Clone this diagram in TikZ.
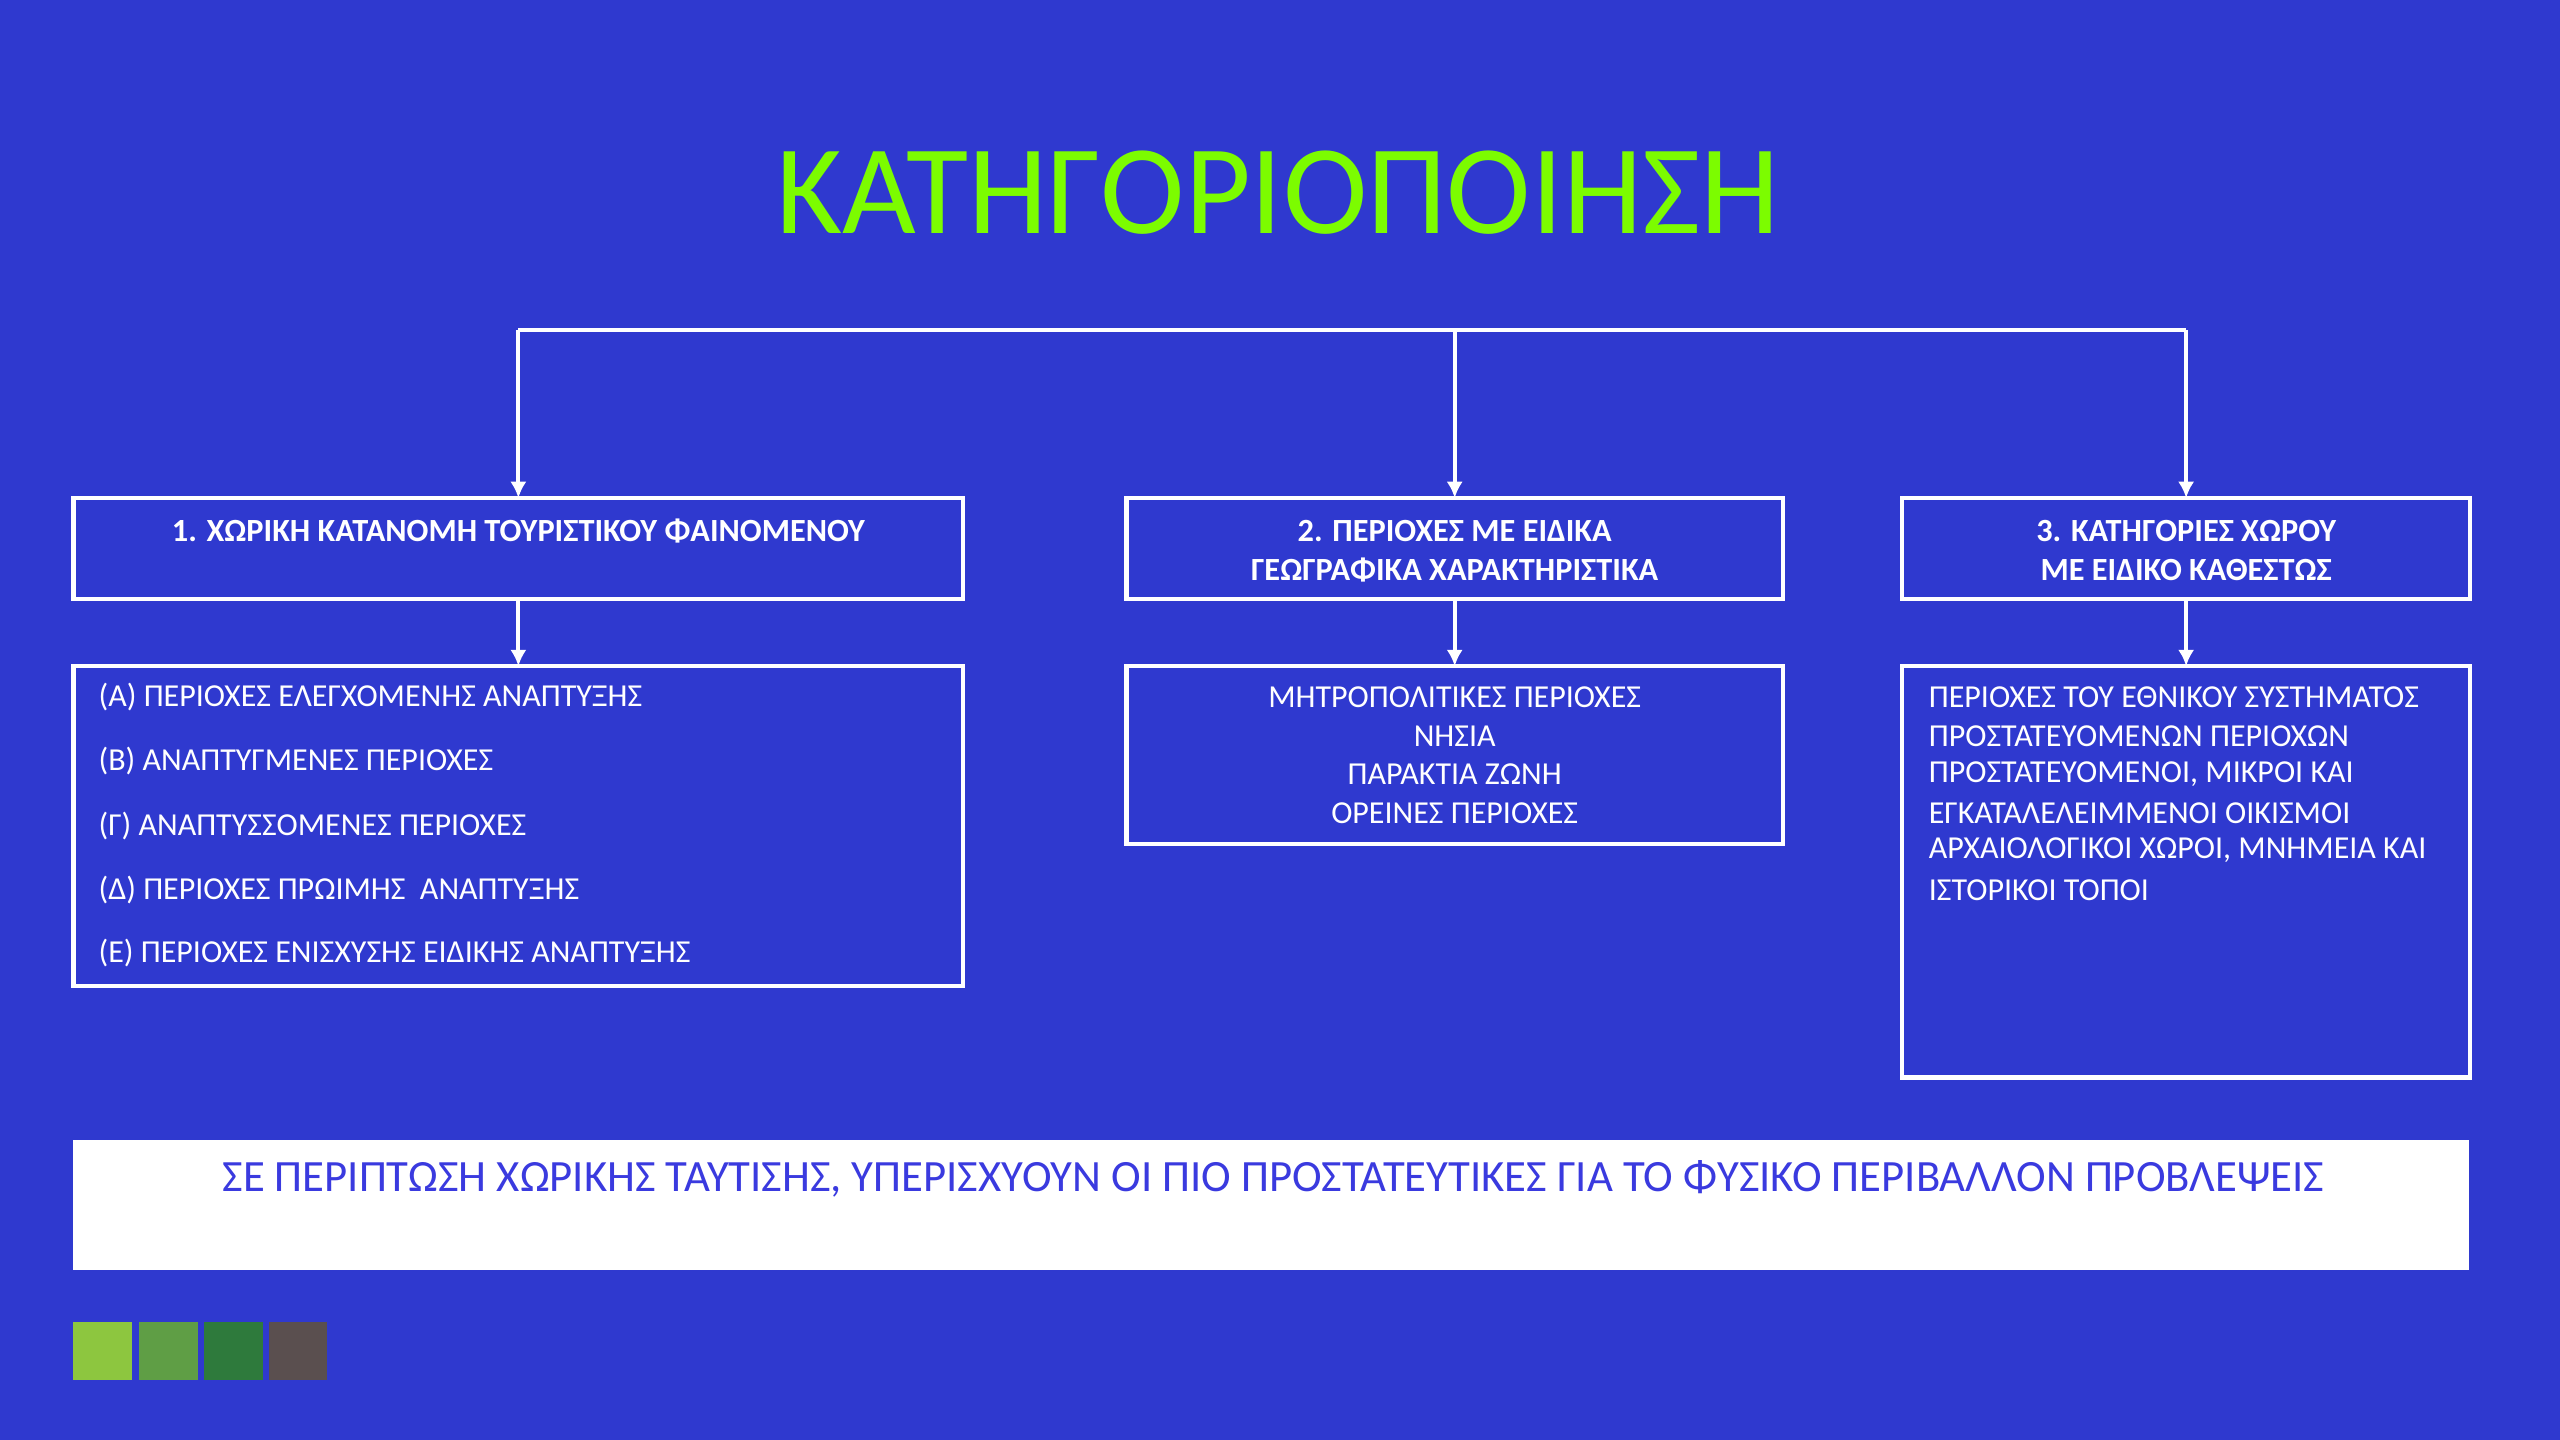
\documentclass[tikz,border=0pt]{standalone}
\usepackage{fontspec}
\setmainfont{Carlito}
\definecolor{bg}{HTML}{2F39CF}
\definecolor{ttl}{HTML}{7CFC00}
\definecolor{btxt}{HTML}{3A3ADF}
\definecolor{sqa}{HTML}{8DC63F}
\definecolor{sqb}{HTML}{5F9E45}
\definecolor{sqc}{HTML}{2E7A3C}
\definecolor{sqd}{HTML}{5A4F4F}
\tikzset{
 box/.style={draw=white,line width=1.3pt},
 conn/.style={draw=white,line width=1.3pt,-{Latex[length=5pt,width=5pt]}},
 hd/.style={text=white,font=\fontsize{9.9}{11}\selectfont\bfseries,inner sep=0pt},
 tx/.style={text=white,font=\fontsize{9.8}{11}\selectfont,inner sep=0pt},
}
\usetikzlibrary{arrows.meta}
\begin{document}
\begin{tikzpicture}[x=0.5pt,y=-0.5pt]
\fill[bg] (0,0) rectangle (1568,882);
\useasboundingbox (0,0) rectangle (1568,882);
\node[text=ttl,font=\fontsize{39}{46}\selectfont,inner sep=0pt] (title) at (783,118) {ΚΑΤΗΓΟΡΙΟΠΟΙΗΣΗ};
% header boxes
\draw[box] (45,305) rectangle (590,367);
\draw[box] (690,305) rectangle (1092,367);
\draw[box] (1165,305) rectangle (1513,367);
\coordinate (h1) at (317.5,305); \coordinate (h2) at (891,305); \coordinate (h3) at (1339,305);
\coordinate (h1b) at (317.5,367); \coordinate (h2b) at (891,367); \coordinate (h3b) at (1339,367);
\coordinate (l1) at (317.5,408); \coordinate (l2) at (891,408); \coordinate (l3) at (1339,408);
\coordinate (t1) at (317.5,202); \coordinate (t2) at (891,202); \coordinate (t3) at (1339,202);
\draw[white,line width=1.3pt] (t1) -- (t3);
\draw[conn] (t1) -- (h1); \draw[conn] (t2) -- (h2); \draw[conn] (t3) -- (h3);
\draw[conn] (h1b) -- (l1); \draw[conn] (h2b) -- (l2); \draw[conn] (h3b) -- (l3);
\node[hd] (a1) at (317.5,325) {1. ΧΩΡΙΚΗ ΚΑΤΑΝΟΜΗ ΤΟΥΡΙΣΤΙΚΟΥ ΦΑΙΝΟΜΕΝΟΥ};
\node[hd] (a2) at (891,325) {2. ΠΕΡΙΟΧΕΣ ΜΕ ΕΙΔΙΚΑ};
\node[hd] (a2b) at (891,349) {ΓΕΩΓΡΑΦΙΚΑ ΧΑΡΑΚΤΗΡΙΣΤΙΚΑ};
\node[hd] (a3) at (1339,325) {3. ΚΑΤΗΓΟΡΙΕΣ ΧΩΡΟΥ};
\node[hd] (a3b) at (1339,349) {ΜΕ ΕΙΔΙΚΟ ΚΑΘΕΣΤΩΣ};
% lower boxes
\draw[box] (45,408) rectangle (590,604);
\draw[box] (690,408) rectangle (1092,517);
\draw[box] (1165,408) rectangle (1513,660);
\node[tx,anchor=west] (b1) at (60,427) {(Α) ΠΕΡΙΟΧΕΣ ΕΛΕΓΧΟΜΕΝΗΣ ΑΝΑΠΤΥΞΗΣ};
\node[tx,anchor=west] (b2) at (60,466) {(Β) ΑΝΑΠΤΥΓΜΕΝΕΣ ΠΕΡΙΟΧΕΣ};
\node[tx,anchor=west] (b3) at (60,506) {(Γ) ΑΝΑΠΤΥΣΣΟΜΕΝΕΣ ΠΕΡΙΟΧΕΣ};
\node[tx,anchor=west] (b4) at (60,545) {(Δ) ΠΕΡΙΟΧΕΣ ΠΡΩΙΜΗΣ \ ΑΝΑΠΤΥΞΗΣ};
\node[tx,anchor=west] (b5) at (60,584) {(Ε) ΠΕΡΙΟΧΕΣ ΕΝΙΣΧΥΣΗΣ ΕΙΔΙΚΗΣ ΑΝΑΠΤΥΞΗΣ};
\node[tx] (c1) at (891,427) {ΜΗΤΡΟΠΟΛΙΤΙΚΕΣ ΠΕΡΙΟΧΕΣ};
\node[tx] (c2) at (891,451) {ΝΗΣΙΑ};
\node[tx] (c3) at (891,474) {ΠΑΡΑΚΤΙΑ ΖΩΝΗ};
\node[tx] (c4) at (891,498) {ΟΡΕΙΝΕΣ ΠΕΡΙΟΧΕΣ};
\node[tx,anchor=west] (d1) at (1181,427) {ΠΕΡΙΟΧΕΣ ΤΟΥ ΕΘΝΙΚΟΥ ΣΥΣΤΗΜΑΤΟΣ};
\node[tx,anchor=west] (d2) at (1181,451) {ΠΡΟΣΤΑΤΕΥΟΜΕΝΩΝ ΠΕΡΙΟΧΩΝ};
\node[tx,anchor=west] (d3) at (1181,474) {ΠΡΟΣΤΑΤΕΥΟΜΕΝΟΙ, ΜΙΚΡΟΙ ΚΑΙ};
\node[tx,anchor=west] (d4) at (1181,498) {ΕΓΚΑΤΑΛΕΛΕΙΜΜΕΝΟΙ ΟΙΚΙΣΜΟΙ};
\node[tx,anchor=west] (d5) at (1181,521) {ΑΡΧΑΙΟΛΟΓΙΚΟΙ ΧΩΡΟΙ, ΜΝΗΜΕΙΑ ΚΑΙ};
\node[tx,anchor=west] (d6) at (1181,545) {ΙΣΤΟΡΙΚΟΙ ΤΟΠΟΙ};
% bottom
\fill[white] (45,698) rectangle (1512,778);
\node[text=btxt,font=\fontsize{13.7}{15}\selectfont,inner sep=0pt] (bt) at (780,722) {ΣΕ ΠΕΡΙΠΤΩΣΗ ΧΩΡΙΚΗΣ ΤΑΥΤΙΣΗΣ, ΥΠΕΡΙΣΧΥΟΥΝ ΟΙ ΠΙΟ ΠΡΟΣΤΑΤΕΥΤΙΚΕΣ ΓΙΑ ΤΟ ΦΥΣΙΚΟ ΠΕΡΙΒΑΛΛΟΝ ΠΡΟΒΛΕΨΕΙΣ};
\fill[sqa] (45,810) rectangle (81,845);
\fill[sqb] (85,810) rectangle (121,845);
\fill[sqc] (125,810) rectangle (161,845);
\fill[sqd] (165,810) rectangle (200,845);
\end{tikzpicture}
\end{document}
